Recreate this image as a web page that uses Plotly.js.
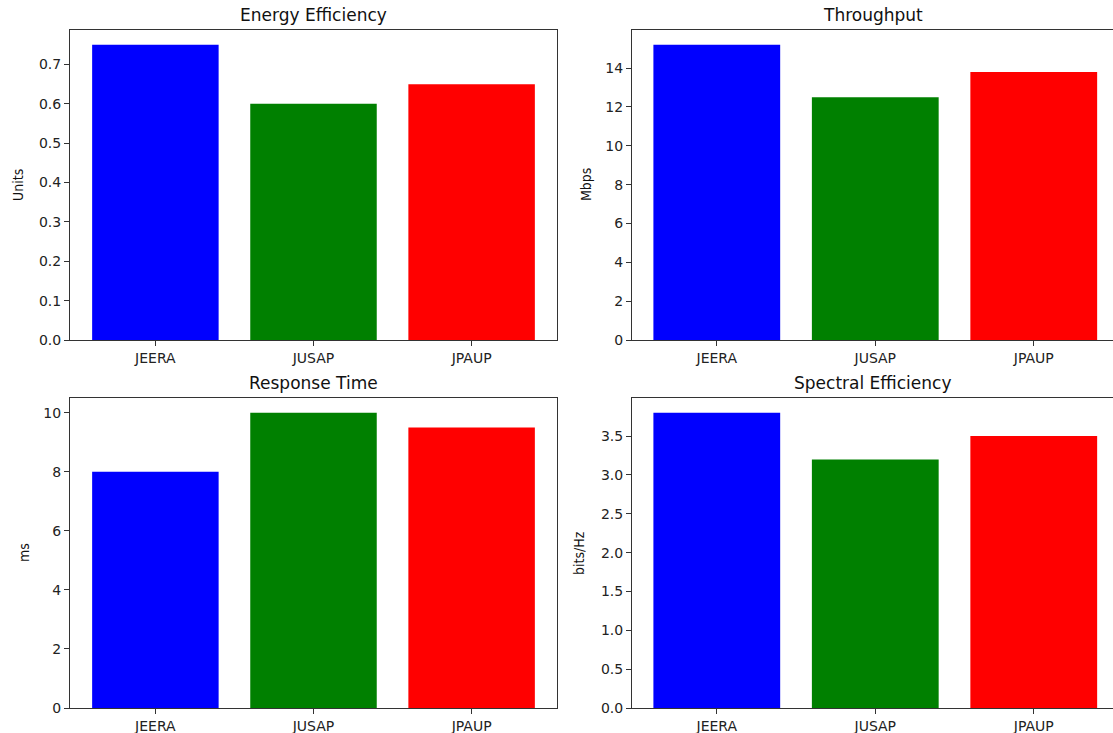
<!DOCTYPE html>
<html>
<head>
<meta charset="utf-8">
<script src="https://cdn.plot.ly/plotly-3.0.1.min.js"></script>
<style>html,body{margin:0;padding:0;background:#fff;}#chart{width:1113px;height:733px;}</style>
</head>
<body>
<div id="chart"></div>
<script>
const categories = ["JEERA", "JUSAP", "JPAUP"];
const barColors = ["blue", "green", "red"];
const energyEfficiency = [0.75, 0.60, 0.65];
const throughput = [15.2, 12.5, 13.8];
const responseTime = [8.0, 10.0, 9.5];
const spectralEfficiency = [3.8, 3.2, 3.5];
const titles = ["Energy Efficiency", "Throughput", "Response Time", "Spectral Efficiency"];
const yLabels = ["Units", "Mbps", "ms", "bits/Hz"];

const W = 1113, H = 733;
const series = [energyEfficiency, throughput, responseTime, spectralEfficiency];
// pixel boxes [left, right, top, bottom]
const boxes = [[70, 557, 30, 340], [632, 1113, 30, 340], [70, 557, 398, 708], [632, 1113, 398, 708]];
const xRanges = [[-0.54, 2.54], [-0.535, 2.5], [-0.54, 2.54], [-0.535, 2.5]];
const dticks = [0.1, 2, 2, 0.5];
const fmts = [".1f", "d", "d", ".1f"];
const yLabelX = [18, 586, 24, 579];

const font = "DejaVu Sans, Arial, sans-serif";
const traces = [];
const layout = {
  width: W, height: H,
  margin: {l: 0, r: 0, t: 0, b: 0},
  paper_bgcolor: "white", plot_bgcolor: "white",
  showlegend: false,
  font: {family: font, size: 14, color: "#222"},
  annotations: []
};

series.forEach((vals, i) => {
  const n = i + 1;
  const xa = "xaxis" + (n === 1 ? "" : n);
  const ya = "yaxis" + (n === 1 ? "" : n);
  traces.push({
    type: "bar", x: categories, y: vals,
    xaxis: "x" + (n === 1 ? "" : n), yaxis: "y" + (n === 1 ? "" : n),
    marker: {color: barColors, line: {width: 0}},
    width: 0.8, hoverinfo: "x+y"
  });
  const b = boxes[i];
  const ymax = Math.max(...vals) * 1.05;
  layout[xa] = {
    domain: [b[0] / W, b[1] / W],
    anchor: "y" + (n === 1 ? "" : n),
    type: "category",
    range: xRanges[i],
    showline: true, linecolor: "#333", linewidth: 1, mirror: true,
    ticks: "outside", ticklen: 5, tickcolor: "#333",
    showgrid: false, zeroline: false, fixedrange: true,
    tickfont: {size: 14, family: font, color: "#222"}
  };
  layout[ya] = {
    domain: [(H - b[3]) / H, (H - b[2]) / H],
    anchor: "x" + (n === 1 ? "" : n),
    range: [0, ymax],
    dtick: dticks[i], tick0: 0, tickformat: fmts[i],
    showline: true, linecolor: "#333", linewidth: 1, mirror: (i === 0 || i === 2),
    ticks: "outside", ticklen: 5, tickcolor: "#333",
    showgrid: false, zeroline: false, fixedrange: true,
    tickfont: {size: 14, family: font, color: "#222"}
  };
  layout.annotations.push({
    text: titles[i], xref: "paper", yref: "paper",
    x: ((b[0] + Math.min(b[1], b[0] + 487)) / 2) / W, y: (H - b[2]) / H,
    xanchor: "center", yanchor: "bottom", yshift: 3, showarrow: false,
    font: {size: 17, family: font, color: "#111"}
  });
  layout.annotations.push({
    text: yLabels[i], xref: "paper", yref: "paper",
    x: yLabelX[i] / W, y: (H - (b[2] + b[3]) / 2) / H,
    xanchor: "center", yanchor: "middle", textangle: -90, showarrow: false,
    font: {size: 14, family: "DejaVu Sans Condensed, Liberation Sans Narrow, DejaVu Sans, sans-serif", color: "#111"}
  });
});

Plotly.newPlot("chart", traces, layout, {displayModeBar: false, staticPlot: true});
</script>
</body>
</html>
